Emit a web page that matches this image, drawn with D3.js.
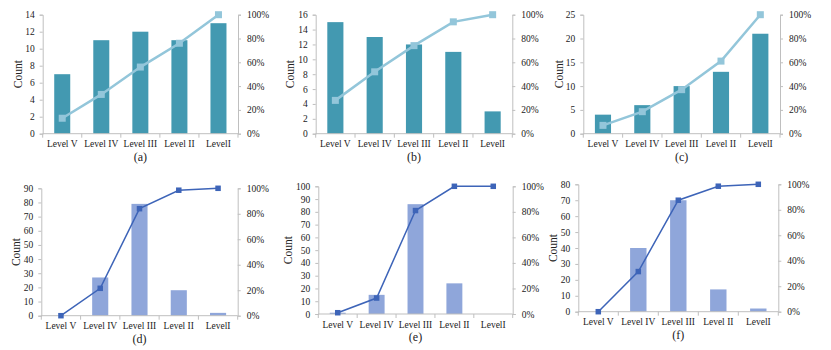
<!DOCTYPE html>
<html>
<head>
<meta charset="utf-8">
<script src="https://cdn.jsdelivr.net/npm/d3@7"></script>
<style>
  html, body { margin: 0; padding: 0; background: #fff; }
  svg { display: block; font-family: "Liberation Serif", "Times New Roman", serif; }
</style>
</head>
<body>
<div id="chart"></div>
<script>
// Categories shared by all six panels
const levels = ["Level V", "Level IV", "Level III", "Level II", "LevelI"];

// Counts (bars) and cumulative percentages (line)
const countsA = [7, 11, 12, 11, 13];
const cumA = [13, 33, 56, 76, 100];
const countsB = [15, 13, 12, 11, 3];
const cumB = [28, 52, 74, 94, 100];
const countsC = [4, 6, 10, 13, 21];
const cumC = [7, 18.5, 37, 61, 100];
const countsD = [0, 27, 79, 18, 2];
const cumD = [0, 21.5, 84, 98.5, 100];
const countsE = [1, 15, 86, 24, 0];
const cumE = [1, 12.5, 81, 100, 100];
const countsF = [0, 40, 70, 14, 2];
const cumF = [0, 31.5, 87.5, 98.5, 100];

// Tick labels
const ticksA = [0, 2, 4, 6, 8, 10, 12, 14];
const ticksB = [0, 2, 4, 6, 8, 10, 12, 14, 16];
const ticksC = [0, 5, 10, 15, 20, 25];
const ticksD = [0, 10, 20, 30, 40, 50, 60, 70, 80, 90];
const ticksE = [0, 10, 20, 30, 40, 50, 60, 70, 80, 90, 100];
const ticksF = [0, 10, 20, 30, 40, 50, 60, 70, 80];
const pctTicks = [0, 20, 40, 60, 80, 100];
const captions = ["(a)", "(b)", "(c)", "(d)", "(e)", "(f)"];

const topStyle = { bar: "#4399b1", line: "#93c6da", lineWidth: 2.5, marker: 7 };
const bottomStyle = { bar: "#8fa6da", line: "#3d64b8", lineWidth: 1.5, marker: 5.5 };

const panels = [
  { counts: countsA, cum: cumA, ticks: ticksA, caption: captions[0], style: topStyle,
    left: 42.7, right: 238, top: 14.7, bottom: 133.7, countDx: 24.5 },
  { counts: countsB, cum: cumB, ticks: ticksB, caption: captions[1], style: topStyle,
    left: 315.7, right: 512.3, top: 14.7, bottom: 133.7, countDx: 25.5 },
  { counts: countsC, cum: cumC, ticks: ticksC, caption: captions[2], style: topStyle,
    left: 583.3, right: 780, top: 14.7, bottom: 133.7, countDx: 24.5 },
  { counts: countsD, cum: cumD, ticks: ticksD, caption: captions[3], style: bottomStyle,
    left: 41.3, right: 237.7, top: 188.3, bottom: 315.7, countDx: 25 },
  { counts: countsE, cum: cumE, ticks: ticksE, caption: captions[4], style: bottomStyle,
    left: 318.3, right: 512.7, top: 186.3, bottom: 314, countDx: 30.5 },
  { counts: countsF, cum: cumF, ticks: ticksF, caption: captions[5], style: bottomStyle,
    left: 578.3, right: 778.3, top: 184.3, bottom: 311.7, countDx: 25 },
];

const width = 831;
const height = 350;
const axisColor = "#bfbfbf";
const textColor = "#222";

const svg = d3.select("#chart")
  .append("svg")
  .attr("width", width)
  .attr("height", height);

panels.forEach((p) => drawPanel(p));

function drawPanel(p) {
  const x = d3.scaleBand().domain(levels).range([p.left, p.right]);
  const y = d3.scaleLinear()
    .domain([0, d3.max(p.ticks)])
    .range([p.bottom, p.top]);
  const yPct = d3.scaleLinear().domain([0, 100]).range([p.bottom, p.top]);
  const g = svg.append("g");

  // Bars
  const barW = x.bandwidth() * 0.41;
  g.selectAll(".bar")
    .data(p.counts)
    .enter()
    .append("rect")
    .attr("class", "bar")
    .attr("x", (d, i) => x(levels[i]) + (x.bandwidth() - barW) / 2)
    .attr("y", (d) => y(d))
    .attr("width", barW)
    .attr("height", (d) => y(0) - y(d))
    .attr("fill", p.style.bar);

  // Left axis
  const yAxis = d3.axisLeft(y).tickValues(p.ticks).tickSize(3).tickPadding(5);
  const ga = g.append("g")
    .attr("class", "y-axis")
    .attr("transform", `translate(${p.left},0)`)
    .call(yAxis);

  // Right axis (percent)
  const pAxis = d3.axisRight(yPct)
    .tickValues(pctTicks)
    .tickSize(3)
    .tickPadding(6)
    .tickFormat((d) => `${d}%`);
  const gp = g.append("g")
    .attr("class", "p-axis")
    .attr("transform", `translate(${p.right},0)`)
    .call(pAxis);

  // Bottom axis with ticks at category boundaries
  const gx = g.append("g").attr("class", "x-axis");
  gx.append("line")
    .attr("x1", p.left).attr("x2", p.right)
    .attr("y1", p.bottom).attr("y2", p.bottom);
  gx.selectAll(".sep")
    .data(d3.range(levels.length + 1))
    .enter()
    .append("line")
    .attr("class", "sep")
    .attr("x1", (i) => i < levels.length ? x(levels[i]) : p.right)
    .attr("x2", (i) => i < levels.length ? x(levels[i]) : p.right)
    .attr("y1", p.bottom)
    .attr("y2", p.bottom + 4);
  gx.selectAll(".cat")
    .data(levels)
    .enter()
    .append("text")
    .attr("class", "cat")
    .attr("x", (d) => x(d) + x.bandwidth() / 2)
    .attr("y", p.bottom + 13.5)
    .attr("text-anchor", "middle")
    .text((d) => d);

  [ga, gp].forEach((a) => {
    a.attr("font-family", null).attr("font-size", 9.5);
    a.select(".domain").attr("stroke", axisColor);
    a.selectAll(".tick line").attr("stroke", axisColor);
    a.selectAll("text").attr("fill", textColor);
  });
  gx.selectAll("line").attr("stroke", axisColor);
  gx.selectAll("text").attr("font-size", 9.5).attr("fill", textColor);

  // Cumulative line
  const cx = (i) => x(levels[i]) + x.bandwidth() / 2;
  const line = d3.line()
    .x((d, i) => cx(i))
    .y((d) => yPct(d));
  g.append("path")
    .datum(p.cum)
    .attr("fill", "none")
    .attr("stroke", p.style.line)
    .attr("stroke-width", p.style.lineWidth)
    .attr("d", line);
  const m = p.style.marker;
  g.selectAll(".marker")
    .data(p.cum)
    .enter()
    .append("rect")
    .attr("class", "marker")
    .attr("x", (d, i) => cx(i) - m / 2)
    .attr("y", (d) => yPct(d) - m / 2)
    .attr("width", m)
    .attr("height", m)
    .attr("fill", p.style.line);

  // Axis title and caption
  const midY = (p.top + p.bottom) / 2;
  g.append("text")
    .attr("transform", `translate(${p.left - p.countDx},${midY}) rotate(-90)`)
    .attr("text-anchor", "middle")
    .attr("dominant-baseline", "central")
    .attr("font-size", 11.5)
    .attr("fill", textColor)
    .text("Count");
  g.append("text")
    .attr("x", (p.left + p.right) / 2)
    .attr("y", p.bottom + 27)
    .attr("text-anchor", "middle")
    .attr("font-size", 12)
    .attr("fill", textColor)
    .text(p.caption);
}
</script>
</body>
</html>
